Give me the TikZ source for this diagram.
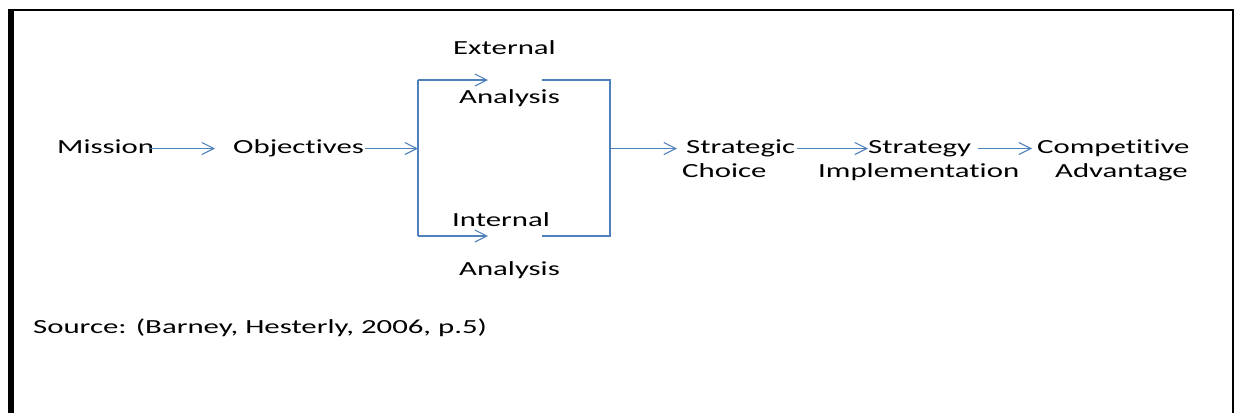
\documentclass[tikz,border=0pt]{standalone}
\usepackage{fontspec}
\setmainfont{Carlito}[FakeStretch=1.54,Ligatures={NoCommon}]
\usetikzlibrary{arrows.meta}
\definecolor{arrblue}{HTML}{4F81BD}
\begin{document}
\begin{tikzpicture}[x=1pt,y=-1pt,
  lbl/.style={anchor=base west,inner sep=0pt,font=\fontsize{20}{24}\selectfont},
  flow/.style={draw=arrblue,line width=1.1pt,-{Straight Barb[length=12pt,width=12pt,line width=1.1pt]}},
  seg/.style={draw=arrblue,line width=1.1pt}]
\useasboundingbox (0,0) rectangle (1235,413);
\fill[white] (0,0) rectangle (1235,413);
% frame
\draw[black,line width=2pt] (8,10) -- (1233,10);
\draw[black,line width=2pt] (1233,9) -- (1233,413);
\fill[black] (8,9) rectangle (14,413);
% labels
\node[lbl] (mission) at (57,153) {Mission};
\node[lbl] (objectives) at (233,153) {Objectives};
\node[lbl] (external) at (453,54) {External};
\node[lbl] (extanalysis) at (459,103) {Analysis};
\node[lbl] (internal) at (452,226) {Internal};
\node[lbl] (intanalysis) at (459,275) {Analysis};
\node[lbl] (strategic) at (686,153) {Strategic};
\node[lbl] (choice) at (682,177) {Choice};
\node[lbl] (strategy) at (868,153) {Strategy};
\node[lbl] (implementation) at (818,177) {Implementation};
\node[lbl] (competitive) at (1037,153) {Competitive};
\node[lbl] (advantage) at (1055,177) {Advantage};
\node[lbl] (source) at (33,333) {Source: (Barney, Hesterly, 2006, p.5)};
% coordinates
\coordinate (m0) at (150,148.5);
\coordinate (m1) at (215,148.5);
\coordinate (o0) at (365,148.5);
\coordinate (ml) at (418,148.5);
\coordinate (tl) at (418,80);
\coordinate (bl) at (418,236);
\coordinate (ttip) at (488,80);
\coordinate (btip) at (488,236);
\coordinate (tr0) at (542,80);
\coordinate (br0) at (542,236);
\coordinate (tr) at (610,80);
\coordinate (br) at (610,236);
\coordinate (mr) at (610,148.5);
\coordinate (s1) at (677,148.5);
\coordinate (c0) at (797,148.5);
\coordinate (c1) at (868,148.5);
\coordinate (i0) at (978,148.5);
\coordinate (i1) at (1032,148.5);
% connectors
\draw[flow] (m0) -- (m1);
\draw[flow] (o0) -- (ml);
\draw[seg] (tl) -- (bl);
\draw[flow] (tl) -- (ttip);
\draw[flow] (bl) -- (btip);
\draw[seg] (tr0) -- (tr) -- (br) -- (br0);
\draw[flow] (mr) -- (s1);
\draw[flow] (c0) -- (c1);
\draw[flow] (i0) -- (i1);
\end{tikzpicture}
\end{document}
